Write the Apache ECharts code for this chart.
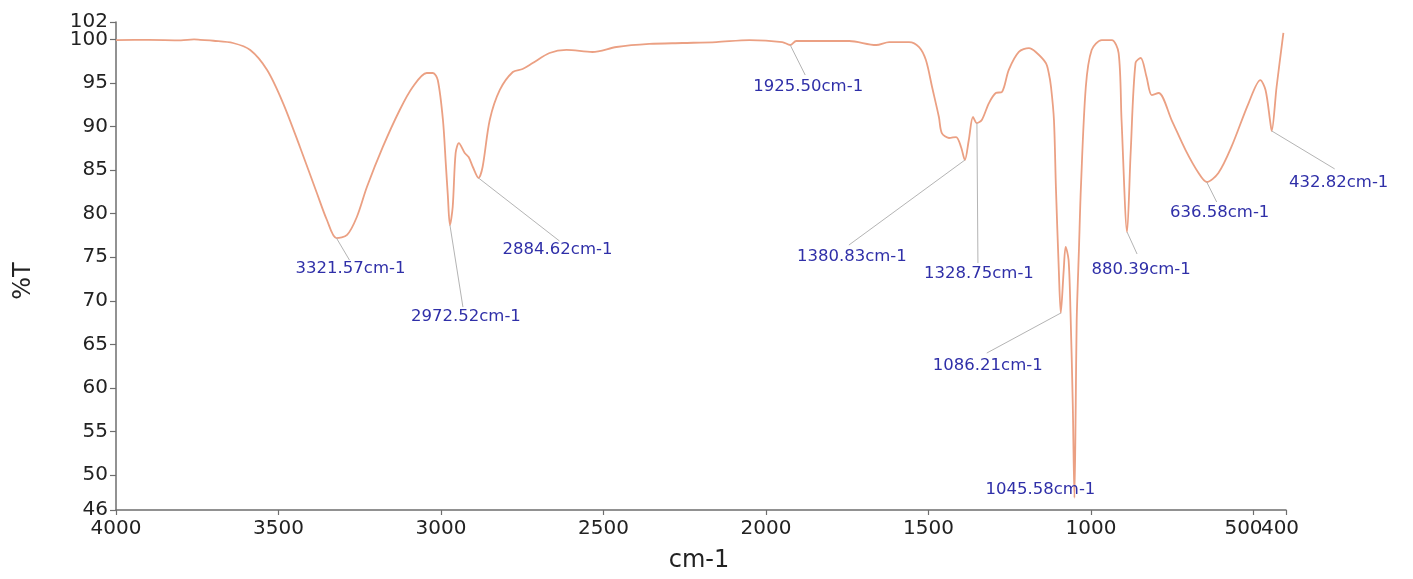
<!DOCTYPE html>
<html>
<head>
<meta charset="utf-8">
<script src="https://cdn.jsdelivr.net/npm/echarts@6/dist/echarts.min.js"></script>
<style>
html,body{margin:0;padding:0;background:#fff;}
#chart{width:1413px;height:579px;}
</style>
</head>
<body>
<div id="chart"></div>
<script>
// ---- data ----
const wavenumber = [4000, 3900, 3800, 3760, 3741, 3700, 3640, 3587, 3535, 3486, 3434, 3382, 3351, 3321.57, 3289, 3259, 3228, 3179, 3127, 3087, 3044, 3025, 3010, 2994, 2985, 2979, 2972.52, 2964, 2955, 2945, 2927, 2915, 2902, 2884.62, 2872, 2850, 2819, 2779, 2749, 2718, 2666, 2614, 2534, 2460, 2359, 2257, 2153, 2051, 1950, 1925.5, 1907, 1744, 1661, 1621, 1560, 1529, 1508, 1489, 1468, 1459, 1437, 1415, 1400, 1388, 1376, 1363, 1351, 1336, 1314, 1293, 1274, 1253, 1222, 1191, 1170, 1139, 1130, 1123, 1114, 1108, 1099, 1093, 1084, 1078, 1069, 1063, 1056, 1051, 1047, 1044, 1037, 1031, 1016, 998, 967, 936, 915, 906, 889, 878, 863, 847, 829, 813, 792, 752, 709, 669, 644, 608, 568, 515, 479, 463, 448, 444, 429, 408];
const transmittance = [99.93, 99.95, 99.9, 100.0, 99.95, 99.85, 99.59, 98.79, 96.49, 92.7, 87.66, 82.38, 79.28, 77.2, 77.56, 79.62, 83.06, 87.66, 91.9, 94.54, 96.15, 96.15, 95.34, 90.75, 85.6, 82.1, 78.7, 80.77, 86.97, 88.1, 86.97, 86.5, 85.36, 84.1, 85.36, 90.75, 94.2, 96.26, 96.61, 97.29, 98.44, 98.79, 98.56, 99.13, 99.48, 99.59, 99.7, 99.93, 99.7, 99.36, 99.82, 99.82, 99.36, 99.7, 99.7, 99.13, 97.64, 94.54, 91.1, 89.26, 88.69, 88.8, 87.66, 86.16, 88.46, 91.1, 90.4, 90.75, 92.7, 93.85, 93.97, 96.5, 98.56, 99.0, 98.56, 97.3, 96.15, 94.54, 90.75, 83.06, 73.5, 68.6, 73.5, 76.2, 74.7, 68.6, 58, 47.4, 58, 67.8, 76, 83.06, 94.54, 98.79, 99.93, 99.93, 98.44, 90.75, 77.9, 86.97, 97.3, 97.87, 95.69, 93.62, 93.85, 90.75, 87.3, 84.67, 83.64, 84.67, 87.66, 92.7, 95.34, 94.2, 90.4, 89.5, 94.54, 100.74];

// peak annotations: label text, wavenumber and %T where the dip is drawn
const peakLabels = ['3321.57cm-1', '2972.52cm-1', '2884.62cm-1', '1925.50cm-1', '1380.83cm-1', '1328.75cm-1', '1086.21cm-1', '1045.58cm-1', '880.39cm-1', '636.58cm-1', '432.82cm-1'];
const peakWavenumber = [3321.57, 2972.52, 2884.62, 1925.5, 1388, 1351, 1093, 1051, 889, 644, 444];
const peakValue = [77.2, 78.7, 84.1, 99.36, 86.16, 90.4, 68.6, 47.4, 77.9, 83.64, 89.5];

// tick labels
const xTicks = [4000, 3500, 3000, 2500, 2000, 1500, 1000, 500];
const xEndTick = [400];
const yTicks = [46, 50, 55, 60, 65, 70, 75, 80, 85, 90, 95, 100];
const yEndTick = [102];

// ---- layout (pixel offsets of leader end and label centre from each peak) ----
const labelLayout = [
  {lx: 13, ly: 22, tx: 14, ty: 31},
  {lx: 13, ly: 82, tx: 16, ty: 92},
  {lx: 81, ly: 63, tx: 79, ty: 72},
  {lx: 15, ly: 30, tx: 18, ty: 42},
  {lx: -116, ly: 85, tx: -113, ty: 97},
  {lx: 1, ly: 140, tx: 2, ty: 151},
  {lx: -74, ly: 40, tx: -73, ty: 53},
  {lx: null, ly: null, tx: -34, ty: -8},
  {lx: 10, ly: 22, tx: 14, ty: 38},
  {lx: 10, ly: 20, tx: 13, ty: 31},
  {lx: 63, ly: 38, tx: 67, ty: 52}
];

const FONT = '"DejaVu Sans", "Liberation Sans", Arial, sans-serif';
const AX = '#6e6e6e';
const spectrum = wavenumber.map((w, i) => [w, transmittance[i]]);
const peaks = peakWavenumber.map((w, i) => [w, peakValue[i], i]);

function xAxisDef(ticks, withLine, shift) {
  return {
    type: 'value', min: 400, max: 4000, inverse: true, position: 'bottom', offset: 0,
    axisLine: {show: withLine, onZero: false, lineStyle: {color: AX, width: 1.5}},
    axisTick: {show: true, length: 5, customValues: ticks, lineStyle: {color: AX, width: 1.2}},
    axisLabel: {
      customValues: ticks, margin: 9, color: '#222', fontSize: 20, fontFamily: FONT,
      formatter: function (v) { return shift[v] ? '{s' + shift[v] + '|' + v + '}' : String(v); },
      rich: {
        s20: {padding: [0, 20, 0, 0], fontSize: 20, fontFamily: FONT, color: '#222'},
        s12: {padding: [0, 12, 0, 0], fontSize: 20, fontFamily: FONT, color: '#222'}
      }
    },
    splitLine: {show: false}
  };
}
function yAxisDef(ticks, withLine) {
  return {
    type: 'value', min: 46, max: 102, position: 'left', offset: 0,
    axisLine: {show: withLine, onZero: false, lineStyle: {color: AX, width: 1.5}},
    axisTick: {show: true, length: 6, customValues: ticks, lineStyle: {color: AX, width: 1.2}},
    axisLabel: {customValues: ticks, margin: 8, color: '#222', fontSize: 20, fontFamily: FONT},
    splitLine: {show: false}
  };
}

const chart = echarts.init(document.getElementById('chart'), null, {renderer: 'canvas'});
chart.setOption({
  backgroundColor: '#ffffff',
  animation: false,
  grid: {left: 116, right: 127, top: 22, bottom: 69},
  xAxis: [xAxisDef(xTicks, true, {500: 20}), xAxisDef(xEndTick, false, {400: 12})],
  yAxis: [yAxisDef(yTicks, true), yAxisDef(yEndTick, false)],
  graphic: [
    {type: 'text', x: 24, y: 281, rotation: Math.PI / 2,
     style: {text: '%T', align: 'center', verticalAlign: 'middle', fill: '#222', font: '24px ' + FONT}},
    {type: 'text', x: 699, y: 561,
     style: {text: 'cm-1', align: 'center', verticalAlign: 'middle', fill: '#222', font: '24px ' + FONT}}
  ],
  series: [
    {
      type: 'line', xAxisIndex: 0, yAxisIndex: 0, data: spectrum, showSymbol: false, symbol: 'none',
      smooth: 0.3, clip: false,
      lineStyle: {color: '#EBA083', width: 1.8}, z: 3
    },
    {
      type: 'custom', xAxisIndex: 0, yAxisIndex: 0, coordinateSystem: 'cartesian2d', data: peaks,
      clip: false, silent: true, z: 4,
      encode: {x: 0, y: 1},
      renderItem: function (params, api) {
        const idx = api.value(2);
        const p = api.coord([api.value(0), api.value(1)]);
        const L = labelLayout[idx];
        const children = [];
        if (L.lx !== null) {
          children.push({
            type: 'line',
            shape: {x1: p[0], y1: p[1], x2: p[0] + L.lx, y2: p[1] + L.ly},
            style: {stroke: '#b4b4b4', lineWidth: 1}
          });
        }
        children.push({
          type: 'text',
          style: {
            text: peakLabels[idx], x: p[0] + L.tx, y: p[1] + L.ty,
            align: 'center', verticalAlign: 'middle',
            fill: '#2f2fa8', font: '16.5px ' + FONT
          }
        });
        return {type: 'group', children: children};
      }
    }
  ]
});
</script>
</body>
</html>
